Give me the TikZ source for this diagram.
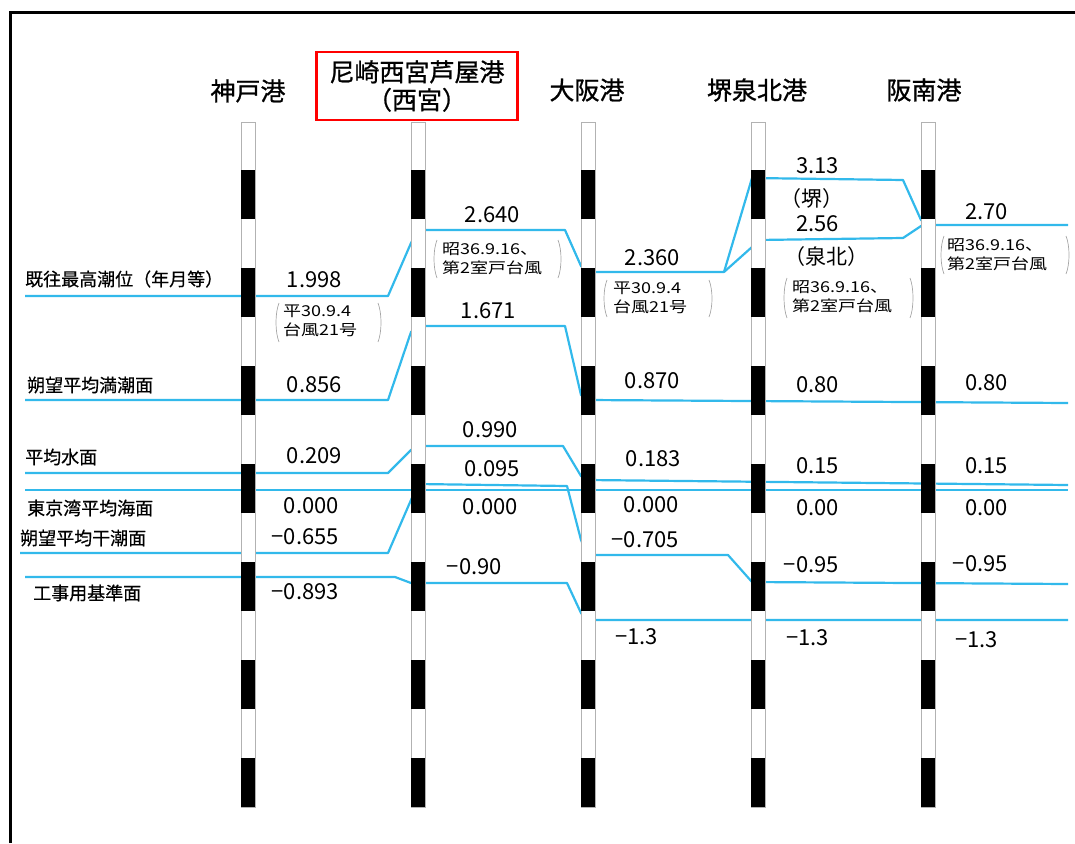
\documentclass[tikz,border=0pt]{standalone}
\usepackage{fontspec}
\setmainfont{Noto Sans CJK JP}
\newfontfamily\hdfont[FakeBold=0.9]{Noto Sans CJK JP}
\newfontfamily\labfont[FakeBold=0.5]{Noto Sans CJK JP}
\newfontfamily\memofont[FakeStretch=1.2]{Noto Sans CJK JP}
\newfontfamily\halffont[RawFeature=+halt]{Noto Sans CJK JP}
\definecolor{tide}{RGB}{50,185,235}

\begin{document}
\begin{tikzpicture}[x=1pt, y=-1pt,
    lvl/.style={tide, line width=2.2pt, line join=round},
    pole/.style={draw=black!30, fill=white, line width=0.8pt},
    val/.style={font=\fontsize{22}{24}\selectfont, inner sep=0pt, anchor=east},
    sub/.style={font=\halffont\fontsize{21}{24}\selectfont, inner sep=0pt},
    lab/.style={font=\labfont\fontsize{18}{20}\selectfont, inner sep=0pt, anchor=west},
    hd/.style={font=\hdfont\fontsize{25}{28}\selectfont, align=center, inner sep=0pt},
    memo/.style={font=\memofont\fontsize{15}{19}\selectfont, align=left, inner sep=0pt, anchor=west},
    brk/.style={black!35, line width=0.7pt}]

  \useasboundingbox (0,0) rectangle (1075,843);
  % frame
  \draw[line width=3pt] (10,843) -- (10,13) -- (1075,13);

  % tide levels, behind the poles
  \draw[lvl] (25,296) -- (388,296) -- (411,243) -- (418,230) -- (565,230) -- (581,266) -- (588,272)
    -- (724,272) -- (752,178) -- (903,180) -- (921,220) -- (928,225);
  \draw[lvl] (724,272) -- (752,247) -- (758,240) -- (903,238) -- (921,226) -- (928,225) -- (1068,225);
  \draw[lvl] (25,400) -- (388,400) -- (411,332) -- (418,326) -- (565,326) -- (581,395) -- (588,400) -- (1068,403);
  \draw[lvl] (25,473) -- (388,473) -- (411,450) -- (418,446) -- (563,446) -- (581,476) -- (588,480) -- (1068,485);
  \draw[lvl] (25,490) -- (1068,490);
  \draw[lvl] (20,553) -- (388,553) -- (411,500) -- (418,484) -- (567,486) -- (581,540) -- (588,555)
    -- (728,555) -- (752,582) -- (1068,584);
  \draw[lvl] (25,577) -- (395,577) -- (411,583) -- (567,583) -- (581,613) -- (588,620) -- (1068,620);

  % poles
  \foreach \px in {248,418,588,758,928} {
    \draw[pole] (\px-7,122) rectangle (\px+7,807);
    \foreach \k in {0,...,6}
      \fill (\px-7,170+98*\k) rectangle (\px+7,219+98*\k);
  }

  % port names
  \node[hd] (kobe) at (248,91) {神戸港};
  \node[hd, draw=red, line width=2.5pt, minimum width=201pt, minimum height=68pt]
    (nishinomiya) at (417,86) {尼崎西宮芦屋港\\（西宮）};
  \node[hd] (osaka) at (587,90) {大阪港};
  \node[hd] (sakai) at (757,90) {堺泉北港};
  \node[hd] (hannan) at (924,90) {阪南港};

  % level names
  \foreach \lx/\ly/\t [count=\i] in {25/279/既往最高潮位（年月等）, 27/385/朔望平均満潮面,
      25/457/平均水面, 27/508/東京湾平均海面, 20/538/朔望平均干潮面, 33/593/工事用基準面}
    \node[lab] (lab\i) at (\lx,\ly) {\t};

  % values
  \foreach \vx/\vy/\t [count=\i] in {342/280/1.998, 342/385/0.856, 342/456/0.209,
      339/506/0.000, 339/537/−0.655, 339/592/−0.893}
    \node[val] (kobev\i) at (\vx,\vy) {\t};
  \foreach \vx/\vy/\t [count=\i] in {520/215/2.640, 516/311/1.671, 518/430/0.990,
      520/469/0.095, 518/507/0.000, 502/567/−0.90}
    \node[val] (nishiv\i) at (\vx,\vy) {\t};
  \foreach \vx/\vy/\t [count=\i] in {680/258/2.360, 680/381/0.870, 681/459/0.183,
      679/505/0.000, 679/540/−0.705, 658/637/−1.3}
    \node[val] (osakav\i) at (\vx,\vy) {\t};
  \foreach \vx/\vy/\t [count=\i] in {839/166/3.13, 839/224/2.56, 839/385/0.80,
      839/466/0.15, 839/508/0.00, 839/565/−0.95, 829/638/−1.3}
    \node[val] (sakaiv\i) at (\vx,\vy) {\t};
  \foreach \vx/\vy/\t [count=\i] in {1008/212/2.70, 1008/383/0.80, 1008/466/0.15,
      1008/508/0.00, 1008/564/−0.95, 998/640/−1.3}
    \node[val] (hannanv\i) at (\vx,\vy) {\t};
  \node[sub] (sakaisub1) at (812,199) {（堺）};
  \node[sub] (sakaisub2) at (826,257) {（泉北）};

  % dates in brackets
  \node[memo] (kobememo) at (283,321) {平30.9.4\\台風21号};
  \node[memo] (nishimemo) at (442,259) {昭36.9.16、\\第2室戸台風};
  \node[memo] (osakamemo) at (613,298) {平30.9.4\\台風21号};
  \node[memo] (sakaimemo) at (792,297) {昭36.9.16、\\第2室戸台風};
  \node[memo] (hannanmemo) at (947,255) {昭36.9.16、\\第2室戸台風};
  \foreach \lx/\rx/\ty/\by in {277/380/303/342, 435/560/240/278, 605/711/280/317,
      785/912/278/318, 942/1068/236/274}
    \draw[brk] (\lx+2,\ty) .. controls (\lx-2,\ty+10) and (\lx-2,\by-10) .. (\lx+2,\by)
               (\rx-2,\ty) .. controls (\rx+2,\ty+10) and (\rx+2,\by-10) .. (\rx-2,\by);
\end{tikzpicture}
\end{document}
